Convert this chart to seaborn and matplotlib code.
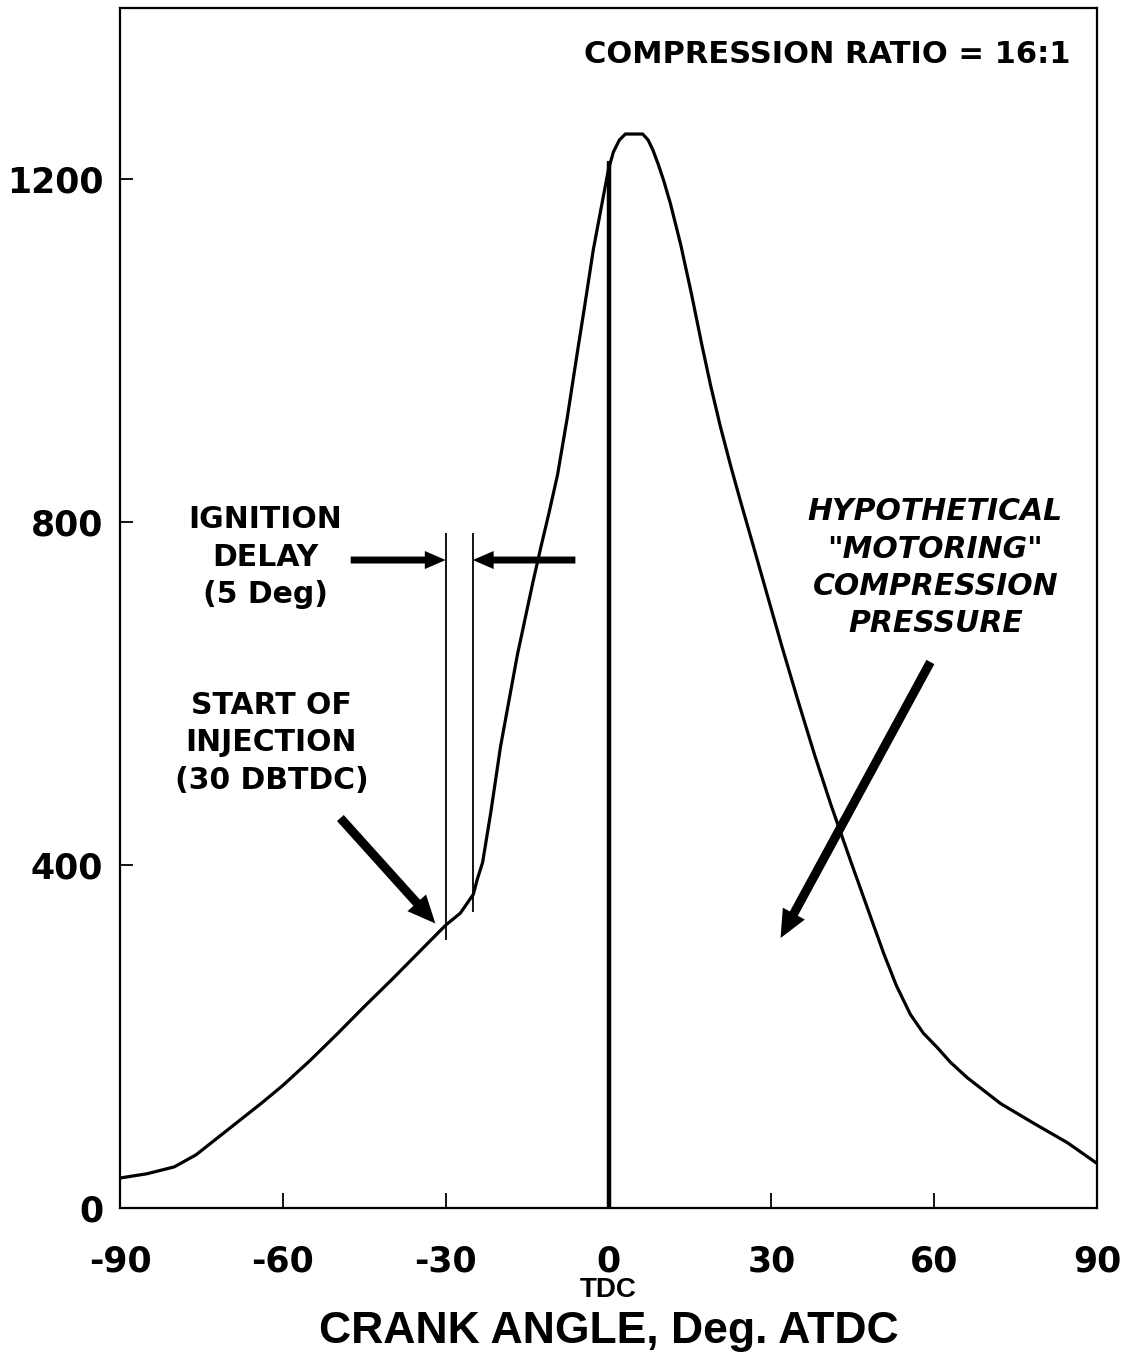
import numpy as np
import pandas as pd
import matplotlib
matplotlib.use("Agg")
import matplotlib.pyplot as plt
from matplotlib.patches import FancyArrowPatch, ArrowStyle
import seaborn as sns

# Cylinder pressure vs crank angle (diesel, CR 16:1)
crank_deg = [-90, -85, -80, -76, -72, -68, -64, -60, -55, -50, -45, -40, -35,
             -30, -27.3, -24.9, -24.2, -23.2, -21.7, -19.9, -16.8, -14.0,
             -12.5, -11.0, -9.4, -7.6, -5.7, -4.4, -2.8, -0.9, 0.0, 0.9, 2.0,
             3.1, 6.3, 7.3, 8.2, 9.2, 10.2, 11.4, 13.3, 15.3, 17.2, 18.8,
             20.6, 22.5, 24.3, 26.7, 29.3, 32, 35, 38, 41, 44.6, 47.7, 50.7,
             53, 55.6, 58, 60.6, 63, 66.1, 72.2, 78.3, 84.6, 90]
pressure = [35, 40, 48, 62, 82, 102, 122, 143, 172, 203, 235, 266, 298,
            330, 344, 366, 383, 403, 461, 538, 645, 728,
            770, 810, 855, 922, 1000, 1052, 1118, 1182, 1212, 1232, 1246,
            1253, 1253, 1246, 1234, 1217, 1198, 1172, 1124, 1066, 1007, 960,
            912, 866, 825, 772, 714, 654, 590, 528, 470, 405, 350, 297,
            260, 226, 204, 187, 170, 152, 122, 99, 76, 52]

x_ticks = [-90, -60, -30, 0, 30, 60, 90]
y_ticks = [0, 400, 800, 1200]
x_limits = (-90, 90)
y_limits = (0, 1400)

tdc_line_top = 1221
injection_deg = -30
ignition_deg = -25
injection_line = (313, 788)
ignition_line = (345, 788)

df = pd.DataFrame({"crank": crank_deg, "pressure": pressure})

sns.set_style("ticks")
plt.rcParams["font.family"] = ["Liberation Sans", "DejaVu Sans"]
plt.rcParams["text.color"] = "black"
plt.rcParams["axes.labelcolor"] = "black"

fig = plt.figure(figsize=(11.34, 13.61), dpi=100)
ax = fig.add_axes([0.1058, 0.1124, 0.9674 - 0.1058, 0.9941 - 0.1124])

sns.lineplot(data=df, x="crank", y="pressure", ax=ax, color="black",
             linewidth=2.3, estimator=None, sort=False)

# TDC marker and injection / ignition markers
ax.vlines(0, 0, tdc_line_top, color="black", linewidth=3.2)
ax.vlines(injection_deg, *injection_line, color="black", linewidth=1.3)
ax.vlines(ignition_deg, *ignition_line, color="black", linewidth=1.3)

ax.set_xlim(*x_limits)
ax.set_ylim(*y_limits)
ax.set_xticks(x_ticks)
ax.set_yticks(y_ticks)
ax.set_xticklabels([str(v) for v in x_ticks])
ax.set_yticklabels([str(v) for v in y_ticks])

for side in ["top", "right", "left", "bottom"]:
    ax.spines[side].set_visible(True)
    ax.spines[side].set_linewidth(1.6)
    ax.spines[side].set_color("black")

ax.tick_params(axis="x", direction="in", length=11, width=1.3, pad=26,
               labelsize=25, colors="black")
ax.tick_params(axis="y", direction="in", length=9, width=1.3, pad=12,
               labelsize=25, colors="black")
for lab in ax.get_xticklabels() + ax.get_yticklabels():
    lab.set_fontweight("bold")
    lab.set_family(["DejaVu Sans"])

ax.set_xlabel("CRANK ANGLE, Deg. ATDC", fontsize=32, fontweight="bold",
              labelpad=24, color="black")
ax.set_ylabel("")

ax.annotate("TDC", xy=(0, 0), xycoords=("data", "axes fraction"),
            xytext=(0, -82), textcoords="offset pixels", ha="center",
            va="center", fontsize=20, fontweight="bold", color="black")

label_font = ["DejaVu Sans"]
ax.text(85.1, 1346, "COMPRESSION RATIO = 16:1", ha="right", va="center",
        fontsize=22, fontweight="bold", family=label_font, color="black")
ax.text(-63.2, 759, "IGNITION\nDELAY\n(5 Deg)", ha="center", va="center",
        fontsize=21.5, fontweight="bold", family=label_font,
        linespacing=1.37, color="black")
ax.text(-62.1, 543, "START OF\nINJECTION\n(30 DBTDC)", ha="center",
        va="center", fontsize=21.5, fontweight="bold", family=label_font,
        linespacing=1.37, color="black")
ax.text(60.2, 747, "HYPOTHETICAL\n\"MOTORING\"\nCOMPRESSION\nPRESSURE",
        ha="center", va="center", fontsize=21.5, fontweight="bold",
        style="italic", family=label_font, linespacing=1.36, color="black")


def arrow(start, end, tail=6.5, head_w=18, head_l=20):
    style = ArrowStyle.Simple(head_length=head_l, head_width=head_w,
                              tail_width=tail)
    ax.add_patch(FancyArrowPatch(start, end, arrowstyle=style,
                                 mutation_scale=1, color="black",
                                 shrinkA=0, shrinkB=0, linewidth=0))


arrow((-47.5, 756), (injection_deg, 756), tail=5, head_w=13, head_l=15)
arrow((-6.1, 756), (ignition_deg, 756), tail=5, head_w=13, head_l=15)
arrow((-49.4, 455), (-31.9, 332))
arrow((59.3, 637), (31.7, 315))

fig.savefig("out.png", dpi=100)
